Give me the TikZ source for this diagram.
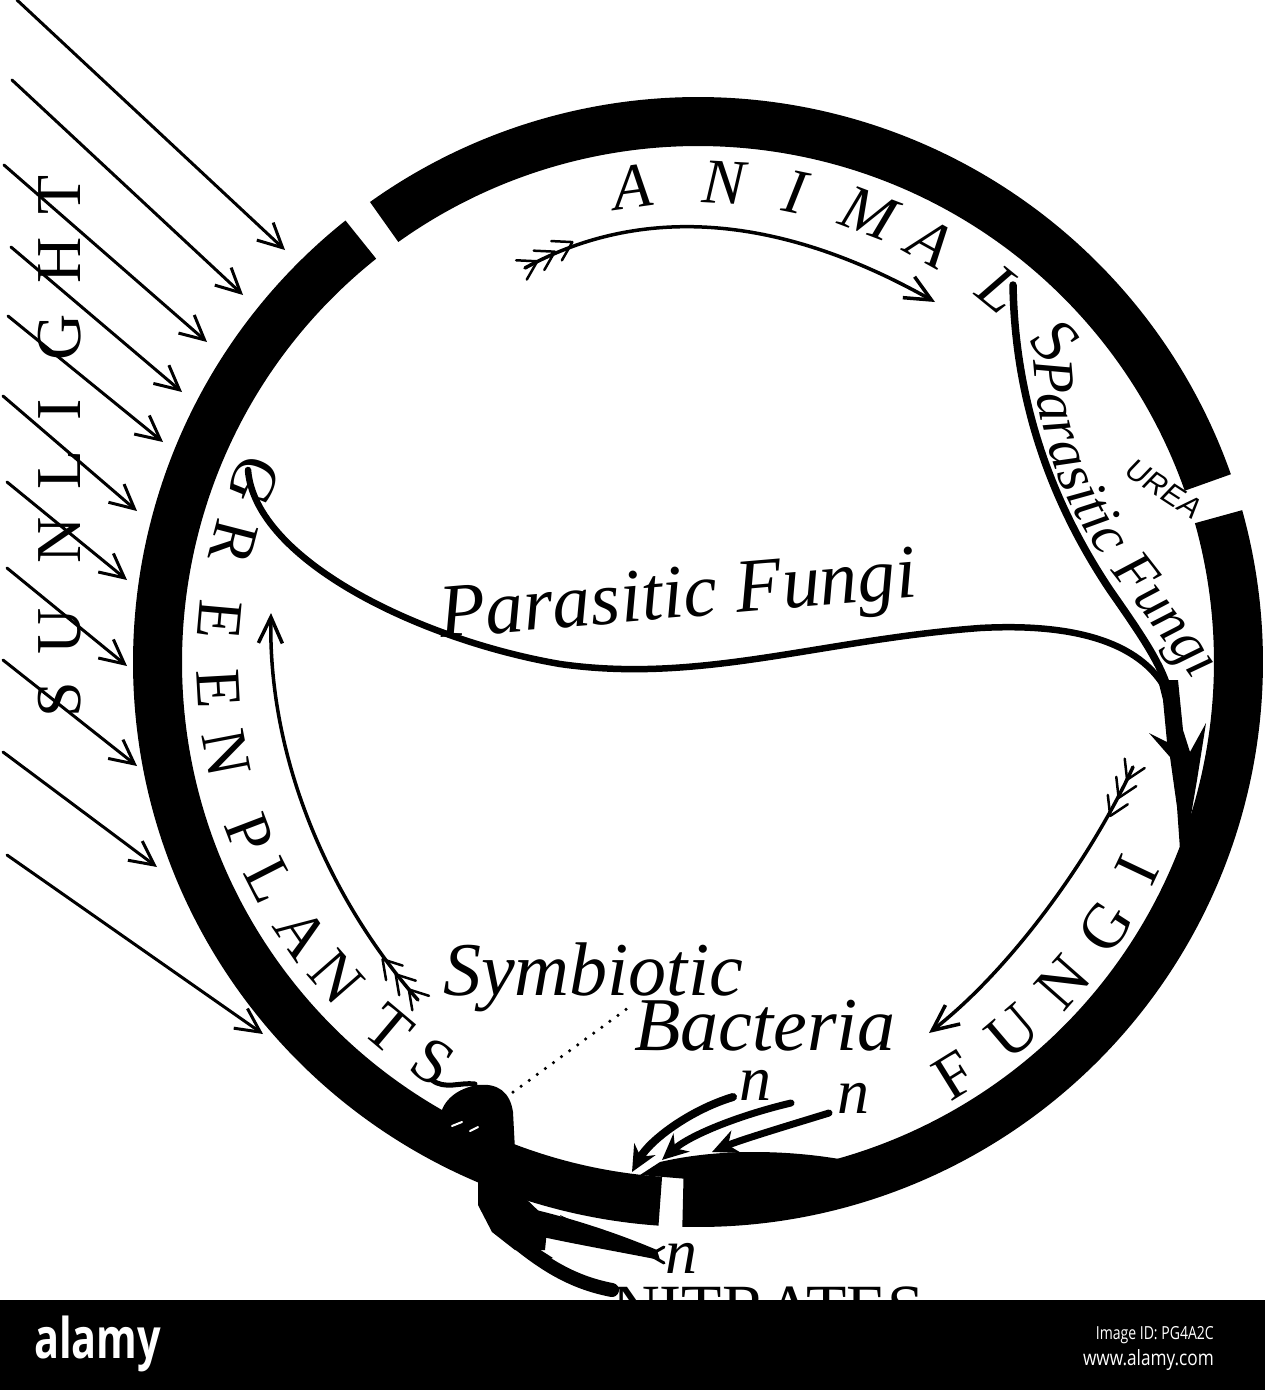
\documentclass[tikz,border=0pt]{standalone}
\usepackage{fontspec}
\setmainfont{Liberation Serif}
\usetikzlibrary{arrows.meta,calc,decorations.text}
\newfontfamily\alamyfont{Open Sans}
\newfontfamily\ureafont{Liberation Sans}
\begin{document}
\begin{tikzpicture}[x=1pt,y=-1pt,line join=round]
\tikzset{
  ringseg/.style={line width=49pt},
  sunray/.style={line width=3pt, line cap=round, -{Straight Barb[length=24pt,width=24pt]}},
  flowline/.style={line width=3.5pt, line cap=round, -{Straight Barb[length=26pt,width=24pt]}},
  thickflow/.style={line width=6.5pt, line cap=round},
  nitro/.style={line width=8pt, line cap=round, -{Stealth[length=26pt,width=24pt]}},
  capsL/.style={font=\fontsize{64}{64}\selectfont, inner sep=0pt},
  itcapsL/.style={font=\fontsize{64}{64}\selectfont\itshape, inner sep=0pt},
  labelL/.style={font=\fontsize{76}{76}\selectfont\itshape, inner sep=0pt},
  nlabel/.style={font=\fontsize{64}{64}\selectfont\itshape, inner sep=0pt, anchor=base west},
  fletching/.pic={
    \foreach \d in {14,34,54}{
      \draw[line width=2.5pt,line cap=round] (\d pt,0pt) -- ++(-18pt,11pt) (\d pt,0pt) -- ++(-18pt,-11pt);
    }
  }
}
\useasboundingbox (0,0) rectangle (1265,1390);
\fill[white] (0,0) rectangle (1265,1390);
\coordinate (C) at (698,662);

% ring
\draw[ringseg] (C) ++(19.4:540.5pt) arc[start angle=19.4,end angle=125.5,radius=540.5pt];
\draw[ringseg] (C) ++(128.6:540.5pt) arc[start angle=128.6,end angle=266,radius=540.5pt];
\draw[ringseg] (C) ++(-91.6:540.5pt) arc[start angle=-91.6,end angle=15.6,radius=540.5pt];

% sunlight rays
\foreach \i/\ax/\ay/\bx/\by in {1/17/0/285/250, 2/12/80/243/295, 3/4/165/207/342, 4/11/247/182/392,
  5/8/316/163/442, 6/3/396/137/511, 7/7/482/127/580, 8/7/568/127/666, 9/3/660/137/766,
  10/3/752/157/867, 11/7/855/263/1034}{
  \coordinate (sunA\i) at (\ax,\ay);
  \coordinate (sunB\i) at (\bx,\by);
  \draw[sunray] (sunA\i) -- (sunB\i);
}
\foreach \l/\y in {T/195,H/260,G/337,I/410,L/470,N/540,U/631,S/700}{
  \node[capsL, rotate=90] (sun\l) at (60,\y) {\l};
}

% ring letters
\foreach \l/\a [count=\k] in {A/97.9,N/86.9,I/78.3,M/69.2,A/61,L/50.9,S/42}{
  \node[itcapsL, rotate=\a-90] (anim\k) at ($(C)+(\a:480pt)$) {\l};
}
\foreach \l/\a [count=\k] in {G/157.8,R/165.6,E/174.9,E/183.2,N/190.9,P/200.9,L/207,A/214.4,N/221.1,T/229.9,S/236.5}{
  \node[capsL, rotate=\a+90] (plant\k) at ($(C)+(\a:480pt)$) {\l};
}
\foreach \l/\a [count=\k] in {F/-58.2,U/-49.6,N/-41.3,G/-33,I/-25.3}{
  \node[capsL, rotate=\a+90] (fung\k) at ($(C)+(\a:486pt)$) {\l};
}

% thick parasitic curves and stem
\coordinate (aStart) at (248,470);
\coordinate (bStart) at (1013,285);
\coordinate (stemTop) at (1170,698);
\draw[thickflow] (aStart) .. controls (255,560) and (420,640) .. (560,664)
  .. controls (700,684) and (820,640) .. (980,628)
  .. controls (1090,622) and (1150,650) .. (stemTop);
\draw[thickflow, line width=7.5pt] (bStart) .. controls (1015,400) and (1050,500) .. (1110,590)
  .. controls (1145,640) and (1165,670) .. (stemTop);
\fill (1158,680) -- (1178,680) -- (1183,730) -- (1190,752) -- (1206,723) -- (1197,780)
  -- (1188,833) -- (1198,870) -- (1183,892) -- (1177,807) -- (1170,757) -- (1149,733)
  -- (1167,742) -- (1163,700) -- cycle;

% animal arrow
\coordinate (animTail) at (525,268);
\coordinate (animTip) at (935,302);
\draw[flowline] (animTail) .. controls (640,205) and (777,213) .. (animTip);
\pic[rotate=28.7] at (animTail) {fletching};

% fungi arrow
\coordinate (fungTail) at (1133,767);
\coordinate (fungTip) at (929,1033);
\draw[flowline] (fungTail) .. controls (1090,860) and (1010,970) .. (fungTip);
\pic[rotate=245] at (fungTail) {fletching};

% green plants arrow
\coordinate (plantTail) at (418,1000);
\coordinate (plantTip) at (271,613);
\draw[flowline] (plantTail) .. controls (330,900) and (268,760) .. (plantTip);
\pic[rotate=131] at (plantTail) {fletching};

% labels
\node[labelL, anchor=base west, rotate=4.9] (pf1) at (441,638) {Parasitic Fungi};
\coordinate (pfA) at (1034,360);
\coordinate (pfB) at (1210,705);
\path[decorate, decoration={text along path, text align=left,
  text={|\fontsize{58}{58}\selectfont\itshape|Parasitic Fungi}}]
  (pfA) .. controls (1037,440) and (1066,515) .. (1124,588) .. controls (1152,624) and (1182,662) .. (pfB);
\node[font=\ureafont\itshape\fontsize{30}{30}\selectfont, rotate=-33, inner sep=0pt] (urea) at (1164,489) {UREA};
\node[labelL, anchor=base west] (symb) at (443,995) {Symbiotic};
\node[labelL, anchor=base west] (bact) at (634,1050) {Bacteria};
\node[nlabel] (n1) at (739,1100) {n};
\node[nlabel] (n2) at (837,1113) {n};
\node[nlabel] (n3) at (665,1273) {n};

% dotted line
\coordinate (dotA) at (505,1098);
\coordinate (dotB) at (628,1008);
\draw[line width=3.5pt, line cap=round, dash pattern=on 0pt off 10pt] (dotA) -- (dotB);

% nitrogen arrows (top)
\coordinate (nA) at (733,1097);
\coordinate (nB) at (791,1103);
\coordinate (nC) at (829,1113);
\coordinate (nTip) at (632,1172);
\coordinate (nTip2) at (662,1160);
\coordinate (nTip3) at (712,1152);
\draw[nitro] (nA) .. controls (690,1110) and (650,1140) .. (nTip);
\draw[nitro, line width=7pt] (nB) .. controls (740,1115) and (690,1135) .. (nTip2);
\draw[nitro, line width=7pt] (nC) .. controls (790,1125) and (740,1140) .. (nTip3);
\fill (845,1160) .. controls (790,1150) and (720,1148) .. (660,1162) -- (640,1175) -- (700,1180) -- (850,1175) -- cycle;

% knot and roots
\fill (440,1118) .. controls (442,1100) and (458,1088) .. (478,1085)
  .. controls (498,1083) and (510,1092) .. (513,1112) -- (515,1150) -- cycle;
\draw[line width=5pt, line cap=round] (432,1080) .. controls (445,1090) and (460,1082) .. (475,1084);
\draw[white, line width=2pt, line cap=round] (452,1126) -- (462,1122) (470,1131) -- (478,1127);
\fill (478,1178) -- (522,1195) -- (548,1220) -- (545,1250) -- (515,1250) -- (492,1232) -- (478,1205) -- cycle;
\fill (523,1207) .. controls (560,1215) and (610,1230) .. (657,1250) -- (660,1260)
  .. controls (610,1250) and (550,1240) .. (500,1227) -- cycle;
\fill (575,1232) -- (560,1215) -- (592,1230) -- cycle;
\coordinate (rootTip) at (662,1255);
\draw[line width=3pt, line cap=round] (650,1255) -- (664,1247) (650,1255) -- (664,1263);
\coordinate (rootB) at (612,1290);
\draw[line width=14pt, line cap=round] (505,1232) .. controls (540,1262) and (570,1282) .. (rootB);
\fill (540,1262) -- (528,1242) -- (553,1258) -- cycle;

% NITRATES (cut by bar)
\node[capsL, font=\fontsize{66}{66}\selectfont, anchor=north west] (nitrates) at (612,1287) {NITRATES};

% bottom bar
\fill[black] (0,1300) rectangle (1265,1390);
\node[anchor=base west, text=white, font=\alamyfont\bfseries\fontsize{56}{56}\selectfont, xscale=0.74, inner sep=0pt] (alamylogo) at (34,1358) {alamy};
\node[anchor=base east, text=white, font=\alamyfont\fontsize{18}{18}\selectfont, xscale=0.78, inner sep=0pt] (imgid) at (1214,1339) {Image ID: PG4A2C};
\node[anchor=base east, text=white, font=\alamyfont\fontsize{21}{21}\selectfont, xscale=0.82, inner sep=0pt] (www) at (1214,1365) {www.alamy.com};
\end{tikzpicture}
\end{document}
